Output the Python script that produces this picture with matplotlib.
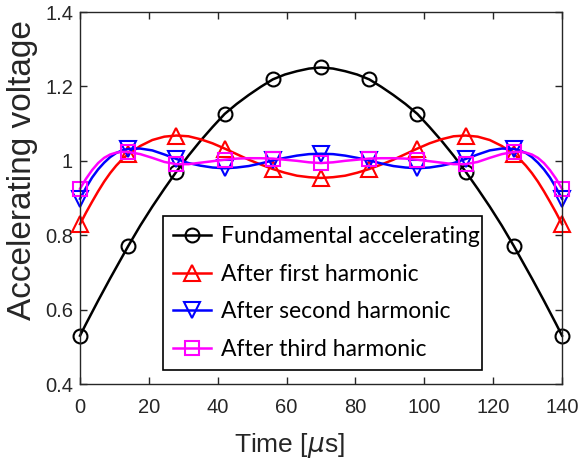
import numpy as np
import matplotlib
matplotlib.use("Agg")
import matplotlib.pyplot as plt
from matplotlib.ticker import FuncFormatter

# Time samples (µs)
time_us = [0, 1.75, 3.5, 5.25, 7, 8.75, 10.5, 12.25, 14, 17.5, 21, 24.5, 28, 31.5, 35, 38.5,
           42, 45.5, 49, 52.5, 56, 59.5, 63, 66.5, 70, 73.5, 77, 80.5, 84, 87.5, 91, 94.5,
           98, 101.5, 105, 108.5, 112, 115.5, 119, 122.5, 126, 127.75, 129.5, 131.25, 133,
           134.75, 136.5, 138.25, 140]

fundamental = [0.530, 0.562, 0.593, 0.624, 0.654, 0.684, 0.713, 0.742, 0.771, 0.826, 0.877, 0.925,
               0.971, 1.014, 1.054, 1.091, 1.126, 1.153, 1.177, 1.199, 1.219, 1.232, 1.241, 1.248,
               1.251,
               1.248, 1.241, 1.232, 1.219, 1.199, 1.177, 1.153, 1.126, 1.091, 1.054, 1.014, 0.971,
               0.925, 0.877, 0.826, 0.771, 0.742, 0.713, 0.684, 0.654, 0.624, 0.593, 0.562, 0.530]
first_harm = [0.830, 0.861, 0.890, 0.918, 0.944, 0.967, 0.987, 1.004, 1.018, 1.040, 1.056, 1.065,
              1.068, 1.066, 1.058, 1.047, 1.033, 1.018, 1.003, 0.990, 0.978, 0.968, 0.960, 0.956,
              0.954,
              0.956, 0.960, 0.968, 0.978, 0.990, 1.003, 1.018, 1.033, 1.047, 1.058, 1.066, 1.068,
              1.065, 1.056, 1.040, 1.018, 1.004, 0.987, 0.967, 0.944, 0.918, 0.890, 0.861, 0.830]
second_harm = [0.898, 0.928, 0.955, 0.977, 0.995, 1.010, 1.021, 1.028, 1.032, 1.033, 1.028, 1.017,
               1.005, 0.994, 0.987, 0.982, 0.980, 0.982, 0.986, 0.993, 1.001, 1.008, 1.014, 1.018,
               1.019,
               1.018, 1.014, 1.008, 1.001, 0.993, 0.986, 0.982, 0.980, 0.982, 0.987, 0.994, 1.005,
               1.017, 1.028, 1.033, 1.032, 1.028, 1.021, 1.010, 0.995, 0.977, 0.955, 0.928, 0.898]
third_harm = [0.925, 0.952, 0.975, 0.994, 1.008, 1.017, 1.022, 1.024, 1.024, 1.018, 1.008, 0.997,
              0.991, 0.991, 0.995, 0.999, 1.003, 1.006, 1.007, 1.007, 1.006, 1.003, 1.000, 0.996,
              0.994,
              0.996, 1.000, 1.003, 1.006, 1.007, 1.007, 1.006, 1.003, 0.999, 0.995, 0.991, 0.991,
              0.997, 1.008, 1.018, 1.024, 1.024, 1.022, 1.017, 1.008, 0.994, 0.975, 0.952, 0.925]

labels = ["Fundamental accelerating", "After first harmonic",
          "After second harmonic", "After third harmonic"]
x_ticks = [0, 20, 40, 60, 80, 100, 120, 140]
y_ticks = [0.4, 0.6, 0.8, 1.0, 1.2, 1.4]
marker_step = 14

series = [fundamental, first_harm, second_harm, third_harm]
colors = ["black", "red", "blue", "magenta"]
markers = ["o", "^", "v", "s"]
msizes = [10, 11, 11, 9.5]

t = np.array(time_us)
mark_idx = [i for i, v in enumerate(t) if np.isclose(v % marker_step, 0)]

fig = plt.figure(figsize=(5.8, 4.63), dpi=100)
ax = fig.add_axes([0.138, 0.1706, 0.831, 0.8034])

for ys, c, m, ms, lab in zip(series, colors, markers, msizes, labels):
    ax.plot(t, ys, color=c, lw=1.8, marker=m, markersize=ms, markevery=mark_idx,
            markerfacecolor="none", markeredgecolor=c, markeredgewidth=1.5, label=lab,
            clip_on=False)

ax.set_xlim(0, 140)
ax.set_ylim(0.4, 1.4)
ax.set_xticks(x_ticks)
ax.set_yticks(y_ticks)
ax.yaxis.set_major_formatter(FuncFormatter(lambda v, p: f"{v:g}"))
ax.tick_params(direction="in", top=True, right=True, length=5, width=1,
               labelsize=14.5, color="#262626", labelcolor="#262626")
ax.tick_params(axis="x", pad=10)
ax.tick_params(axis="y", pad=5)
for lab in ax.get_xticklabels() + ax.get_yticklabels():
    lab.set_fontfamily("Liberation Sans")
for s in ax.spines.values():
    s.set_linewidth(1.0)
    s.set_color("#262626")

ax.set_xlabel(r"Time [$\mu$s]", fontsize=19, family="Liberation Sans", color="#262626")
ax.set_ylabel("Accelerating voltage", fontsize=24, family="Liberation Sans", color="#262626")
ax.xaxis.set_label_coords(0.4336, -0.126)
ax.yaxis.set_label_coords(-0.087, 0.575)

leg = ax.legend(loc="lower left", bbox_to_anchor=(0.172, 0.038, 0.662, 0.414), mode="expand",
                prop={"family": "Lato", "size": 16.5}, frameon=True, fancybox=False,
                edgecolor="black", framealpha=1, handlelength=1.65, borderaxespad=0,
                labelspacing=0.72, handletextpad=0.45, borderpad=0.45)
leg.get_frame().set_linewidth(1.2)

fig.savefig("out.png", dpi=100)
